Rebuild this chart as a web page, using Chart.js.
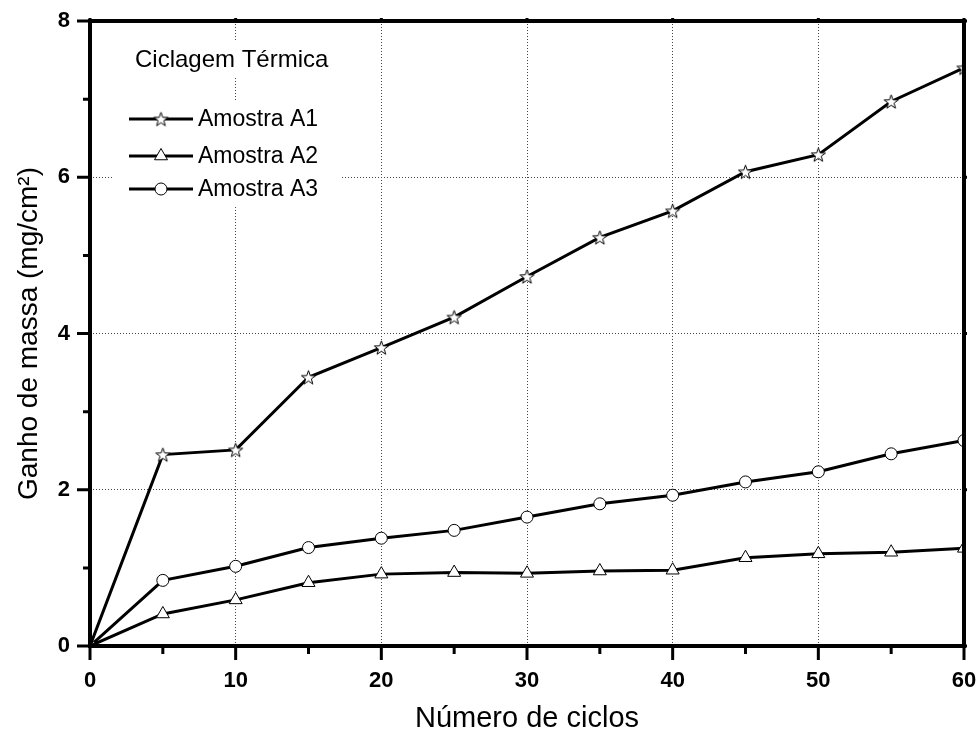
<!DOCTYPE html>
<html>
<head>
<meta charset="utf-8">
<script src="https://cdn.jsdelivr.net/npm/chart.js@4.4.1/dist/chart.umd.min.js"></script>
<style>
  html, body { margin: 0; padding: 0; background: #fff; }
  #wrap { width: 980px; height: 733px; }
</style>
</head>
<body>
<div id="wrap"><canvas id="c" width="980" height="733"></canvas></div>
<script>
// ---- data ----
const cycles = [0, 5, 10, 15, 20, 25, 30, 35, 40, 45, 50, 55, 60];
const amostraA1 = [0, 2.45, 2.51, 3.44, 3.82, 4.21, 4.73, 5.23, 5.57, 6.07, 6.29, 6.97, 7.40];
const amostraA2 = [0, 0.41, 0.59, 0.81, 0.92, 0.94, 0.93, 0.96, 0.97, 1.13, 1.18, 1.20, 1.25];
const amostraA3 = [0, 0.84, 1.02, 1.26, 1.38, 1.48, 1.65, 1.82, 1.93, 2.10, 2.23, 2.46, 2.63];
const seriesLabels = ['Amostra A1', 'Amostra A2', 'Amostra A3'];
const legendTitle = 'Ciclagem Térmica';
const xTitle = 'Número de ciclos';
const yTitle = 'Ganho de massa (mg/cm²)';
const xTicks = [0, 10, 20, 30, 40, 50, 60];
const yTicks = [0, 2, 4, 6, 8];
const xMinorTicks = [5, 15, 25, 35, 45, 55];
const yMinorTicks = [1, 3, 5, 7];

const FONT = "'Liberation Sans', Arial, sans-serif";

function makeStar(R, r, lw) {
  const size = Math.ceil(2 * R + 2 * lw + 2);
  const c = document.createElement('canvas');
  c.width = size; c.height = size;
  const g = c.getContext('2d');
  const cx = size / 2, cy = size / 2 + R * 0.1;
  g.beginPath();
  for (let i = 0; i < 10; i++) {
    const a = -Math.PI / 2 + i * Math.PI / 5;
    const rr = (i % 2) ? r : R;
    g.lineTo(cx + rr * Math.cos(a), cy + rr * Math.sin(a));
  }
  g.closePath();
  g.fillStyle = '#fff'; g.fill();
  g.lineWidth = lw; g.strokeStyle = '#000'; g.stroke();
  return c;
}
const starImg = makeStar(7.4, 3.0, 1);

function pts(ys) { return cycles.map((x, i) => ({ x: x, y: ys[i] })); }

const markerDefs = [
  { style: starImg, radius: 7 },
  { style: 'triangle', radius: 7.5 },
  { style: 'circle', radius: 6 }
];

function drawMarker(ctx, def, x, y) {
  ctx.save();
  ctx.lineWidth = 1; ctx.strokeStyle = '#000'; ctx.fillStyle = '#fff';
  if (def.style === 'circle') {
    ctx.beginPath(); ctx.arc(x, y, def.radius, 0, Math.PI * 2); ctx.fill(); ctx.stroke();
  } else if (def.style === 'triangle') {
    const r = def.radius;
    ctx.beginPath();
    let a = 0;
    for (let k = 0; k < 3; k++) {
      ctx.lineTo(x + Math.sin(a) * r, y - Math.cos(a) * r);
      a += 2 * Math.PI / 3;
    }
    ctx.closePath(); ctx.fill(); ctx.stroke();
  } else {
    ctx.drawImage(def.style, x - def.style.width / 2, y - def.style.height / 2);
  }
  ctx.restore();
}

const framePlugin = {
  id: 'framePlugin',
  afterDatasetsDraw(chart) {
    const ctx = chart.ctx;
    const xs = chart.scales.x, ys = chart.scales.y;
    const a = chart.chartArea;

    // legend background boxes
    ctx.save();
    ctx.fillStyle = '#fff';
    ctx.fillRect(130, 41, 205, 36);
    ctx.fillRect(113, 100, 227, 105);
    ctx.fillStyle = '#000';
    ctx.textBaseline = 'middle';
    ctx.textAlign = 'left';
    ctx.font = '24px ' + FONT;
    ctx.fillText(legendTitle, 135, 60);
    ctx.font = '23px ' + FONT;
    const rowsY = [119, 156, 189];
    chart.data.datasets.forEach((ds, i) => {
      const y = rowsY[i];
      ctx.beginPath();
      ctx.lineWidth = 3; ctx.strokeStyle = '#000';
      ctx.moveTo(129, y); ctx.lineTo(193, y); ctx.stroke();
      drawMarker(ctx, markerDefs[i], 161, y);
      ctx.fillStyle = '#000';
      ctx.fillText(ds.label, 198, y + 1);
    });
    ctx.restore();

    // frame and tick marks
    ctx.save();
    ctx.strokeStyle = '#000';
    ctx.lineWidth = 4;
    ctx.lineCap = 'square';
    ctx.strokeRect(a.left, a.top, a.right - a.left, a.bottom - a.top);
    ctx.lineCap = 'butt';
    ctx.lineWidth = 3;
    ctx.beginPath();
    xTicks.forEach(v => { const p = xs.getPixelForValue(v); ctx.moveTo(p, a.bottom); ctx.lineTo(p, a.bottom + 14); ctx.moveTo(p, a.top); ctx.lineTo(p, a.top - 3); });
    xMinorTicks.forEach(v => { const p = xs.getPixelForValue(v); ctx.moveTo(p, a.bottom); ctx.lineTo(p, a.bottom + 8); ctx.moveTo(p, a.top); ctx.lineTo(p, a.top - 2); });
    yTicks.forEach(v => { const p = ys.getPixelForValue(v); ctx.moveTo(a.left, p); ctx.lineTo(a.left - 13, p); ctx.moveTo(a.right, p); ctx.lineTo(a.right + 3, p); });
    yMinorTicks.forEach(v => { const p = ys.getPixelForValue(v); ctx.moveTo(a.left, p); ctx.lineTo(a.left - 7, p); ctx.moveTo(a.right, p); ctx.lineTo(a.right + 2, p); });
    ctx.stroke();
    ctx.restore();
  }
};

const baseDs = {
  borderColor: '#000',
  borderWidth: 3,
  pointBackgroundColor: '#fff',
  pointBorderColor: '#000',
  pointBorderWidth: 1,
  tension: 0,
  fill: false,
  clip: 0
};

function zeroPad(s) { s.paddingLeft = 0; s.paddingRight = 0; s.paddingTop = 0; s.paddingBottom = 0; }

new Chart(document.getElementById('c'), {
  type: 'line',
  data: {
    datasets: [
      Object.assign({}, baseDs, { label: seriesLabels[0], data: pts(amostraA1), pointStyle: starImg, pointRadius: 7 }),
      Object.assign({}, baseDs, { label: seriesLabels[1], data: pts(amostraA2), pointStyle: 'triangle', pointRadius: 7.5 }),
      Object.assign({}, baseDs, { label: seriesLabels[2], data: pts(amostraA3), pointStyle: 'circle', pointRadius: 6 })
    ]
  },
  options: {
    responsive: false,
    animation: false,
    events: [],
    layout: { autoPadding: false, padding: { top: 21, right: 16, left: 0, bottom: 0 } },
    plugins: { legend: { display: false }, tooltip: { enabled: false } },
    scales: {
      x: {
        type: 'linear', min: 0, max: 60,
        afterFit: s => { s.height = 87; zeroPad(s); },
        afterBuildTicks: s => { s.ticks = xTicks.map(v => ({ value: v })); },
        ticks: { padding: 22, color: '#000', font: { family: FONT, size: 22, weight: 'bold' }, maxRotation: 0 },
        grid: { color: '#444', lineWidth: 1, drawTicks: false },
        border: { display: false, dash: [1, 2] },
        title: { display: true, text: xTitle, color: '#000', font: { family: FONT, size: 29, lineHeight: 1 }, padding: { top: 0, bottom: 0 } }
      },
      y: {
        type: 'linear', min: 0, max: 8,
        afterFit: s => { s.width = 90; zeroPad(s); },
        afterBuildTicks: s => { s.ticks = yTicks.map(v => ({ value: v })); },
        ticks: { padding: 20, color: '#000', font: { family: FONT, size: 22, weight: 'bold' } },
        grid: { color: '#444', lineWidth: 1, drawTicks: false },
        border: { display: false, dash: [1, 2] },
        title: { display: true, text: yTitle, color: '#000', font: { family: FONT, size: 28, lineHeight: 1 }, padding: { top: 15, bottom: 0 } }
      }
    }
  },
  plugins: [framePlugin]
});
</script>
</body>
</html>
